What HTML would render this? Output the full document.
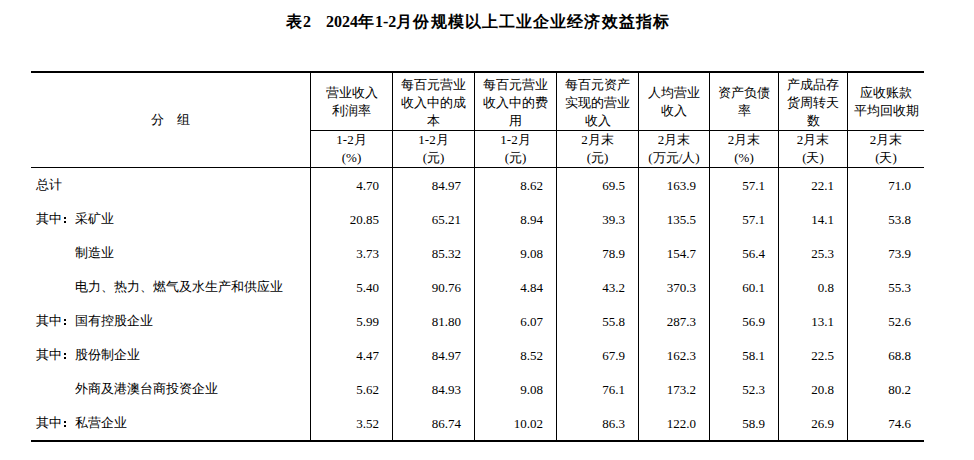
<!DOCTYPE html>
<html><head><meta charset="utf-8"><title>表2</title>
<style>
html,body{margin:0;padding:0;background:#fff;}
body{width:974px;height:460px;position:relative;overflow:hidden;font-family:"Liberation Serif",serif;color:#000;font-size:13px;}
.l{position:absolute;background:#000;}
.t{position:absolute;white-space:nowrap;}
.title{position:absolute;left:286px;top:12px;font-weight:bold;font-size:16px;line-height:20px;white-space:nowrap;}
.k{letter-spacing:1.0px;}
.h{position:absolute;text-align:center;line-height:18px;display:flex;flex-direction:column;justify-content:center;}
.h div{white-space:nowrap;}
.n{position:absolute;text-align:right;font-size:13px;line-height:34px;height:34px;}
.co{display:inline-block;width:13px;height:34px;position:relative;vertical-align:top;}
.co i{position:absolute;left:2px;width:2px;height:2px;background:#000;}
.c{position:absolute;line-height:34px;height:34px;}
</style></head><body>
<div class="title"><span class="k">表</span>2<span style="display:inline-block;width:15px"></span>2024<span class="k">年</span>1-2<span class="k" style="letter-spacing:1.1px">月份规模以上工业企业经济效益指标</span></div>
<div class="l" style="left:31px;top:71px;width:893px;height:2px"></div>
<div class="l" style="left:310px;top:130px;width:614px;height:1px"></div>
<div class="l" style="left:31px;top:167px;width:893px;height:1px"></div>
<div class="l" style="left:31px;top:440px;width:893px;height:2px"></div>
<div class="l" style="left:310px;top:73px;width:1px;height:367px"></div>
<div class="l" style="left:392px;top:73px;width:1px;height:367px"></div>
<div class="l" style="left:474px;top:73px;width:1px;height:367px"></div>
<div class="l" style="left:556px;top:73px;width:1px;height:367px"></div>
<div class="l" style="left:638px;top:73px;width:1px;height:367px"></div>
<div class="l" style="left:709px;top:73px;width:1px;height:367px"></div>
<div class="l" style="left:778px;top:73px;width:1px;height:367px"></div>
<div class="l" style="left:847px;top:73px;width:1px;height:367px"></div>
<div class="h" style="left:31px;width:279px;top:73px;height:94px"><div>分　组</div></div>
<div class="h" style="left:311px;width:81px;top:73px;height:57px"><div>营业收入</div><div>利润率</div></div>
<div class="h" style="left:311px;width:81px;top:131px;height:36px"><div>1-2月</div><div>(%)</div></div>
<div class="h" style="left:393px;width:81px;top:74px;height:57px"><div>每百元营业</div><div>收入中的成</div><div>本</div></div>
<div class="h" style="left:393px;width:81px;top:131px;height:36px"><div>1-2月</div><div>(元)</div></div>
<div class="h" style="left:475px;width:81px;top:74px;height:57px"><div>每百元营业</div><div>收入中的费</div><div>用</div></div>
<div class="h" style="left:475px;width:81px;top:131px;height:36px"><div>1-2月</div><div>(元)</div></div>
<div class="h" style="left:557px;width:81px;top:74px;height:57px"><div>每百元资产</div><div>实现的营业</div><div>收入</div></div>
<div class="h" style="left:557px;width:81px;top:131px;height:36px"><div>2月末</div><div>(元)</div></div>
<div class="h" style="left:639px;width:70px;top:73px;height:57px"><div>人均营业</div><div>收入</div></div>
<div class="h" style="left:639px;width:70px;top:131px;height:36px"><div>2月末</div><div>(万元/人)</div></div>
<div class="h" style="left:710px;width:68px;top:73px;height:57px"><div>资产负债</div><div>率</div></div>
<div class="h" style="left:710px;width:68px;top:131px;height:36px"><div>2月末</div><div>(%)</div></div>
<div class="h" style="left:779px;width:68px;top:74px;height:57px"><div>产成品存</div><div>货周转天</div><div>数</div></div>
<div class="h" style="left:779px;width:68px;top:131px;height:36px"><div>2月末</div><div>(天)</div></div>
<div class="h" style="left:848px;width:76px;top:73px;height:57px"><div>应收账款</div><div>平均回收期</div></div>
<div class="h" style="left:848px;width:76px;top:131px;height:36px"><div>2月末</div><div>(天)</div></div>
<div class="c" style="left:36px;top:168px">总计</div>
<div class="n" style="left:310px;width:69px;top:169px">4.70</div>
<div class="n" style="left:392px;width:69px;top:169px">84.97</div>
<div class="n" style="left:474px;width:69px;top:169px">8.62</div>
<div class="n" style="left:556px;width:69px;top:169px">69.5</div>
<div class="n" style="left:638px;width:58px;top:169px">163.9</div>
<div class="n" style="left:709px;width:56px;top:169px">57.1</div>
<div class="n" style="left:778px;width:56px;top:169px">22.1</div>
<div class="n" style="left:847px;width:64px;top:169px">71.0</div>
<div class="c" style="left:36px;top:202px">其中<span class="co"><i style="top:15px"></i><i style="top:19px"></i></span>采矿业</div>
<div class="n" style="left:310px;width:69px;top:203px">20.85</div>
<div class="n" style="left:392px;width:69px;top:203px">65.21</div>
<div class="n" style="left:474px;width:69px;top:203px">8.94</div>
<div class="n" style="left:556px;width:69px;top:203px">39.3</div>
<div class="n" style="left:638px;width:58px;top:203px">135.5</div>
<div class="n" style="left:709px;width:56px;top:203px">57.1</div>
<div class="n" style="left:778px;width:56px;top:203px">14.1</div>
<div class="n" style="left:847px;width:64px;top:203px">53.8</div>
<div class="c" style="left:75px;top:236px">制造业</div>
<div class="n" style="left:310px;width:69px;top:237px">3.73</div>
<div class="n" style="left:392px;width:69px;top:237px">85.32</div>
<div class="n" style="left:474px;width:69px;top:237px">9.08</div>
<div class="n" style="left:556px;width:69px;top:237px">78.9</div>
<div class="n" style="left:638px;width:58px;top:237px">154.7</div>
<div class="n" style="left:709px;width:56px;top:237px">56.4</div>
<div class="n" style="left:778px;width:56px;top:237px">25.3</div>
<div class="n" style="left:847px;width:64px;top:237px">73.9</div>
<div class="c" style="left:75px;top:270px">电力、热力、燃气及水生产和供应业</div>
<div class="n" style="left:310px;width:69px;top:271px">5.40</div>
<div class="n" style="left:392px;width:69px;top:271px">90.76</div>
<div class="n" style="left:474px;width:69px;top:271px">4.84</div>
<div class="n" style="left:556px;width:69px;top:271px">43.2</div>
<div class="n" style="left:638px;width:58px;top:271px">370.3</div>
<div class="n" style="left:709px;width:56px;top:271px">60.1</div>
<div class="n" style="left:778px;width:56px;top:271px">0.8</div>
<div class="n" style="left:847px;width:64px;top:271px">55.3</div>
<div class="c" style="left:36px;top:304px">其中<span class="co"><i style="top:15px"></i><i style="top:19px"></i></span>国有控股企业</div>
<div class="n" style="left:310px;width:69px;top:305px">5.99</div>
<div class="n" style="left:392px;width:69px;top:305px">81.80</div>
<div class="n" style="left:474px;width:69px;top:305px">6.07</div>
<div class="n" style="left:556px;width:69px;top:305px">55.8</div>
<div class="n" style="left:638px;width:58px;top:305px">287.3</div>
<div class="n" style="left:709px;width:56px;top:305px">56.9</div>
<div class="n" style="left:778px;width:56px;top:305px">13.1</div>
<div class="n" style="left:847px;width:64px;top:305px">52.6</div>
<div class="c" style="left:36px;top:338px">其中<span class="co"><i style="top:15px"></i><i style="top:19px"></i></span>股份制企业</div>
<div class="n" style="left:310px;width:69px;top:339px">4.47</div>
<div class="n" style="left:392px;width:69px;top:339px">84.97</div>
<div class="n" style="left:474px;width:69px;top:339px">8.52</div>
<div class="n" style="left:556px;width:69px;top:339px">67.9</div>
<div class="n" style="left:638px;width:58px;top:339px">162.3</div>
<div class="n" style="left:709px;width:56px;top:339px">58.1</div>
<div class="n" style="left:778px;width:56px;top:339px">22.5</div>
<div class="n" style="left:847px;width:64px;top:339px">68.8</div>
<div class="c" style="left:75px;top:372px">外商及港澳台商投资企业</div>
<div class="n" style="left:310px;width:69px;top:373px">5.62</div>
<div class="n" style="left:392px;width:69px;top:373px">84.93</div>
<div class="n" style="left:474px;width:69px;top:373px">9.08</div>
<div class="n" style="left:556px;width:69px;top:373px">76.1</div>
<div class="n" style="left:638px;width:58px;top:373px">173.2</div>
<div class="n" style="left:709px;width:56px;top:373px">52.3</div>
<div class="n" style="left:778px;width:56px;top:373px">20.8</div>
<div class="n" style="left:847px;width:64px;top:373px">80.2</div>
<div class="c" style="left:36px;top:406px">其中<span class="co"><i style="top:15px"></i><i style="top:19px"></i></span>私营企业</div>
<div class="n" style="left:310px;width:69px;top:407px">3.52</div>
<div class="n" style="left:392px;width:69px;top:407px">86.74</div>
<div class="n" style="left:474px;width:69px;top:407px">10.02</div>
<div class="n" style="left:556px;width:69px;top:407px">86.3</div>
<div class="n" style="left:638px;width:58px;top:407px">122.0</div>
<div class="n" style="left:709px;width:56px;top:407px">58.9</div>
<div class="n" style="left:778px;width:56px;top:407px">26.9</div>
<div class="n" style="left:847px;width:64px;top:407px">74.6</div>
</body></html>
